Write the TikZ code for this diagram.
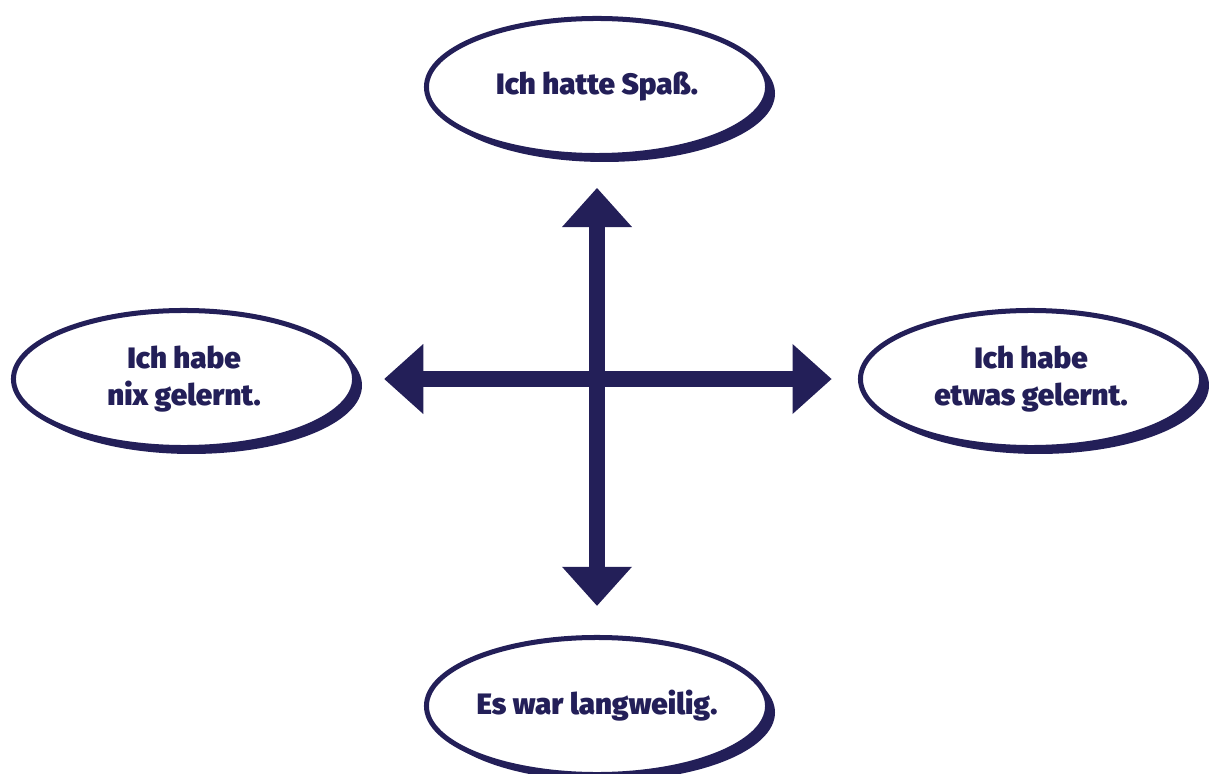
\documentclass[tikz,border=0pt]{standalone}
\usepackage{fontspec}
\usepackage{xcolor}
\usepackage{tikz}
\usetikzlibrary{arrows.meta,shapes.geometric,shadows}
\IfFontExistsTF{Fira Sans Black}{\newfontfamily\heavyfont{Fira Sans Black}}{\newfontfamily\heavyfont{Liberation Sans Bold}}
\definecolor{navy}{RGB}{35,31,88}

\begin{document}
\begin{tikzpicture}[
    x=0.025cm, y=-0.025cm,
    bubble/.style={ellipse, draw=navy, line width=3.56pt, fill=white, minimum width=8.525cm, minimum height=3.425cm,
        inner sep=0pt, align=center, text=navy, font=\heavyfont\fontsize{21}{26.3}\selectfont,
        general shadow={fill=navy, shadow xshift=5.3pt, shadow yshift=-4.6pt}},
    arrow/.style={{Triangle[length=0.975cm, width=1.75cm, line width=0pt]}-{Triangle[length=0.975cm, width=1.75cm, line width=0pt]}, draw=navy, line width=0.4cm}
]
\useasboundingbox (0,0) rectangle (1209,774);
% Axes ends
\node[bubble] (fun) at (597,87) {Ich hatte Spaß.};
\node[bubble] (bored) at (597,706) {Es war langweilig.};
\node[bubble] (nolearn) at (184,379) {Ich habe\\nix gelernt.};
\node[bubble] (learn) at (1031,379) {Ich habe\\etwas gelernt.};
% Arrows
\draw[arrow, shorten <=0.75cm, shorten >=0.73cm] (fun) -- (bored);
\draw[arrow, shorten <=0.68cm, shorten >=0.66cm] (nolearn) -- (learn);
\end{tikzpicture}
\end{document}
